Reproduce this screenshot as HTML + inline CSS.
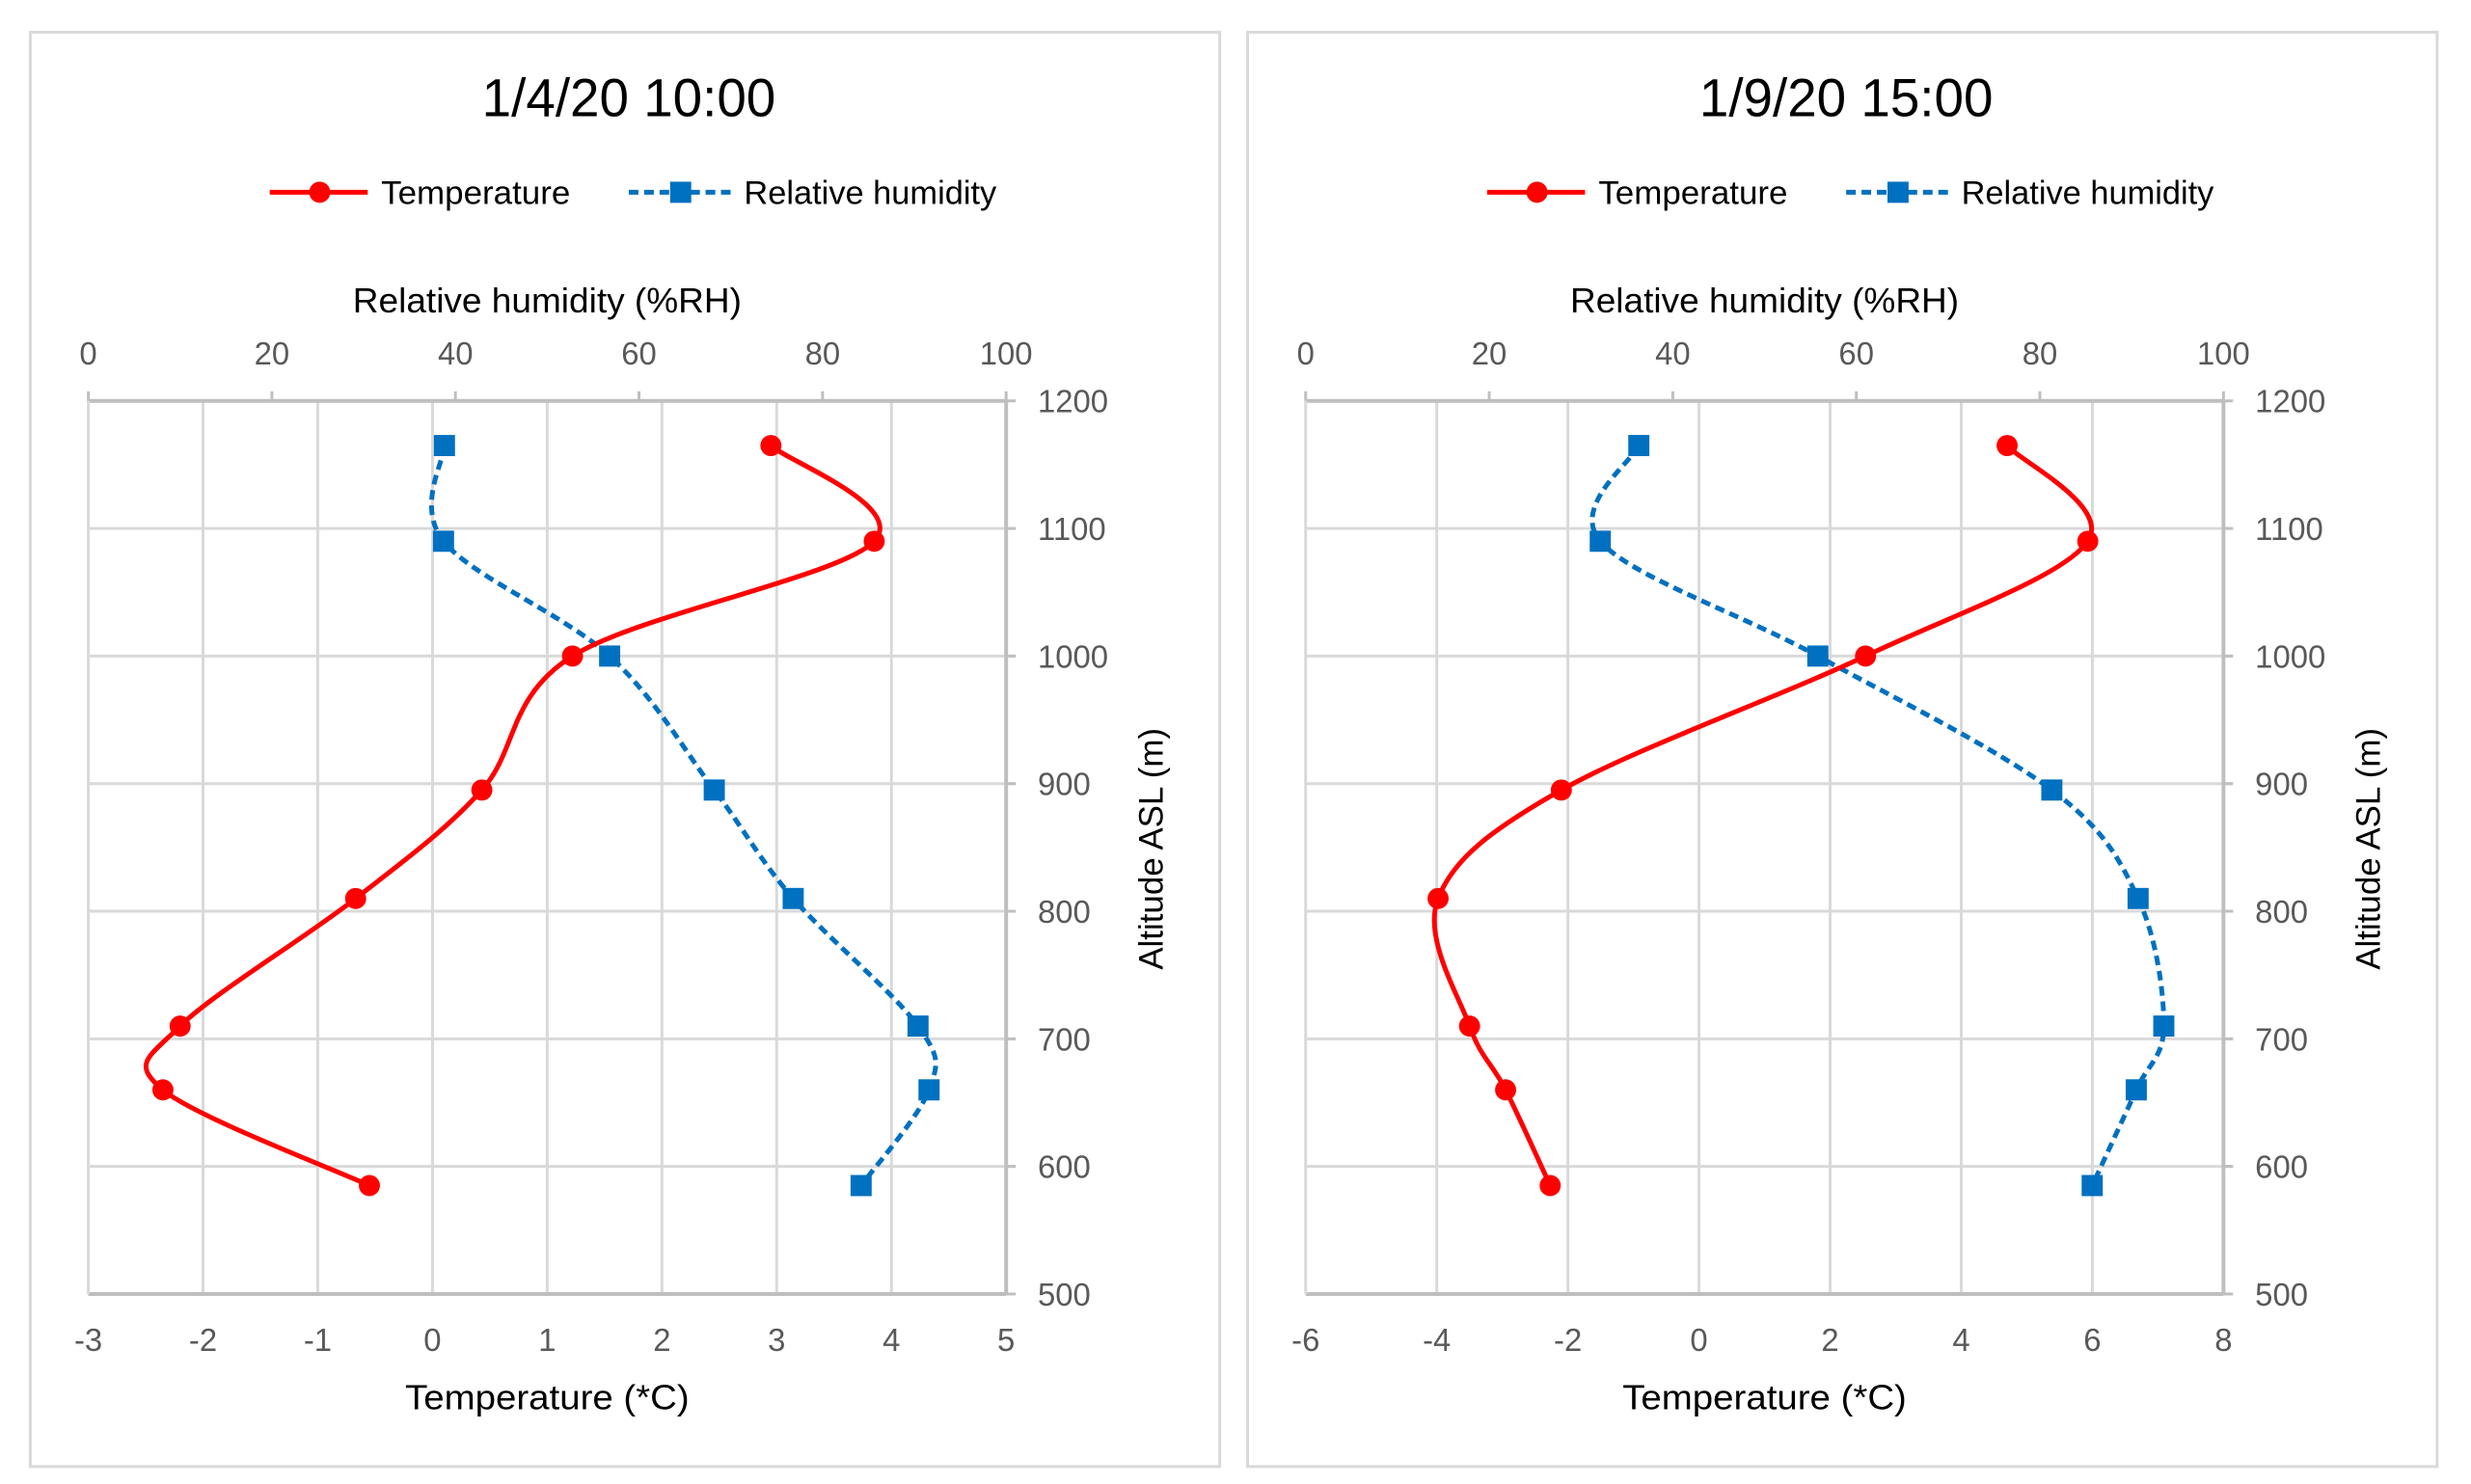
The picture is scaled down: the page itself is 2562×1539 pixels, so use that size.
<!DOCTYPE html>
<html><head><meta charset="utf-8"><style>
html,body{margin:0;padding:0;background:#fff}
svg{display:block}
text{font-family:"Liberation Sans",sans-serif}
</style></head><body>
<svg width="2562" height="1539" viewBox="0 0 2562 1539" xmlns="http://www.w3.org/2000/svg"><g id="s" transform="scale(0.9954,0.997)"></g></svg>
<script>
const altitudes = [1165, 1090, 1000, 895, 810, 710, 660, 585];
const temp1 = [2.95, 3.85, 1.22, 0.43, -0.67, -2.2, -2.35, -0.55];
const rh1 = [38.8, 38.7, 56.8, 68.2, 76.8, 90.4, 91.6, 84.2];
const temp2 = [4.70, 5.93, 2.54, -2.10, -3.98, -3.50, -2.95, -2.27];
const rh2 = [36.3, 32.1, 55.8, 81.3, 90.7, 93.5, 90.5, 85.7];
const titles = ["1/4/20 10:00", "1/9/20 15:00"];
const tempTicks1 = [-3,-2,-1,0,1,2,3,4,5];
const tempTicks2 = [-6,-4,-2,0,2,4,6,8];
const rhTicks = [0,20,40,60,80,100];
const altTicks = [500,600,700,800,900,1000,1100,1200];

const NS = "http://www.w3.org/2000/svg";
const svg = document.getElementById('s');
function el(tag, attrs, parent, txt){
  const e = document.createElementNS(NS, tag);
  for (const k in attrs) e.setAttribute(k, attrs[k]);
  if (txt !== undefined) e.textContent = txt;
  (parent || svg).appendChild(e);
  return e;
}
function smooth(pts){
  let d = `M${pts[0][0]},${pts[0][1]}`;
  for (let i=0;i<pts.length-1;i++){
    const p0 = pts[Math.max(i-1,0)], p1 = pts[i], p2 = pts[i+1], p3 = pts[Math.min(i+2,pts.length-1)];
    const c1 = [p1[0]+(p2[0]-p0[0])/6, p1[1]+(p2[1]-p0[1])/6];
    const c2 = [p2[0]-(p3[0]-p1[0])/6, p2[1]-(p3[1]-p1[1])/6];
    d += ` C${c1[0]},${c1[1]} ${c2[0]},${c2[1]} ${p2[0]},${p2[1]}`;
  }
  return d;
}
function panel(ox, title, temps, rhs, tTicks, idx){
  const g = el('g', {});
  
  
  const L = 92+ox, R = 1048+ox, T = 417, B = 1346;
  const tmin = tTicks[0], tmax = tTicks[tTicks.length-1];
  const xT = v => L + (v - tmin)/(tmax - tmin)*(R-L);
  const xH = v => L + v/100*(R-L);
  const y = v => B - (v-500)/700*(B-T);
  const border = el('rect', {x:31.5+ox, y:33.5, width:1239, height:1492, fill:'none', stroke:'#d9d9d9', 'stroke-width':3}, g);
  
  
  const tt = el('text', {x:655+ox, y:121, 'font-size':56, 'text-anchor':'middle', fill:'#000', textLength:306, lengthAdjust:'spacingAndGlyphs'}, g, title);
  
  
  const lg = el('g', {}, g);
  
  
  el('line', {x1:281+ox, y1:200, x2:383+ox, y2:200, stroke:'#ff0000', 'stroke-width':5}, lg);
  el('circle', {cx:333+ox, cy:200, r:11, fill:'#ff0000'}, lg);
  el('text', {x:397+ox, y:212, 'font-size':34, fill:'#000', textLength:197, lengthAdjust:'spacingAndGlyphs'}, lg, 'Temperature');
  el('line', {x1:655+ox, y1:200, x2:763+ox, y2:200, stroke:'#0070c0', 'stroke-width':5, 'stroke-dasharray':'10 6'}, lg);
  el('rect', {x:698+ox, y:189, width:22, height:22, fill:'#0070c0'}, lg);
  el('text', {x:775+ox, y:212, 'font-size':34, fill:'#000', textLength:263, lengthAdjust:'spacingAndGlyphs'}, lg, 'Relative humidity');
  tTicks.forEach(v => { if (v!==tmin && v!==tmax) el('line', {x1:xT(v), y1:T, x2:xT(v), y2:B, stroke:'#d9d9d9', 'stroke-width':3}, g); });
  altTicks.forEach(v => { if (v!==500 && v!==1200) el('line', {x1:L, y1:y(v), x2:R+10, y2:y(v), stroke:'#d9d9d9', 'stroke-width':3}, g); });
  el('line', {x1:L, y1:T, x2:R, y2:T, stroke:'#bfbfbf', 'stroke-width':4}, g);
  el('line', {x1:L, y1:B, x2:R, y2:B, stroke:'#bfbfbf', 'stroke-width':4}, g);
  el('line', {x1:L, y1:T, x2:L, y2:B, stroke:'#d9d9d9', 'stroke-width':3}, g);
  el('line', {x1:R, y1:T, x2:R, y2:B, stroke:'#bfbfbf', 'stroke-width':4}, g);
  rhTicks.forEach(v => {
    el('line', {x1:xH(v), y1:T-10, x2:xH(v), y2:T, stroke:'#bfbfbf', 'stroke-width':3}, g);
    const t = el('text', {x:xH(v), y:379, 'font-size':33, 'text-anchor':'middle', fill:'#595959'}, g, v);
    
    
  });
  tTicks.forEach(v => {
    const t = el('text', {x:xT(v), y:1405, 'font-size':33, 'text-anchor':'middle', fill:'#595959'}, g, v);
    
    
  });
  altTicks.forEach(v => {
    el('line', {x1:R, y1:y(v), x2:R+10, y2:y(v), stroke:'#bfbfbf', 'stroke-width':3}, g);
    const t = el('text', {x:1081+ox, y:y(v)+12, 'font-size':33, fill:'#595959'}, g, v);
    
    
  });
  const a1 = el('text', {x:570+ox, y:325, 'font-size':36, 'text-anchor':'middle', fill:'#000', textLength:405, lengthAdjust:'spacingAndGlyphs'}, g, 'Relative humidity (%RH)');
  
  
  const a2 = el('text', {x:570+ox, y:1466, 'font-size':36, 'text-anchor':'middle', fill:'#000', textLength:296, lengthAdjust:'spacingAndGlyphs'}, g, 'Temperature (*C)');
  
  
  const a3 = el('text', {x:0, y:0, 'font-size':35, 'text-anchor':'middle', fill:'#000', transform:`translate(${1211+ox},883) rotate(-90)`}, g, 'Altitude ASL (m)');
  
  
  const rp = altitudes.map((a,i)=>[xH(rhs[i]), y(a)]);
  const tp = altitudes.map((a,i)=>[xT(temps[i]), y(a)]);
  const rl = el('path', {d:smooth(rp), fill:'none', stroke:'#0070c0', 'stroke-width':5, 'stroke-dasharray':'10 6'}, g);
  
  
  rp.forEach(p => {
    const m = el('rect', {x:p[0]-11, y:p[1]-11, width:22, height:22, fill:'#0070c0'}, g);
    
    
  });
  const tl = el('path', {d:smooth(tp), fill:'none', stroke:'#ff0000', 'stroke-width':5}, g);
  
  
  tp.forEach(p => {
    const m = el('circle', {cx:p[0], cy:p[1], r:11, fill:'#ff0000'}, g);
    
    
  });
}
panel(0, titles[0], temp1, rh1, tempTicks1, 0);
panel(1268, titles[1], temp2, rh2, tempTicks2, 1);
</script>
</body></html>
